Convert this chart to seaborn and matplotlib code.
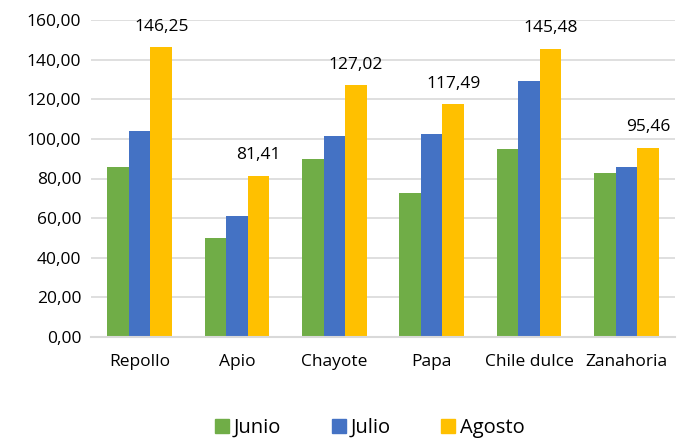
import matplotlib
matplotlib.use('Agg')
import matplotlib.pyplot as plt
import seaborn as sns
import pandas as pd
from matplotlib.patches import Patch

productos = ['Repollo', 'Apio', 'Chayote', 'Papa', 'Chile dulce', 'Zanahoria']
junio = [85.8, 49.8, 89.8, 72.8, 94.9, 82.7]
julio = [104.0, 61.0, 101.6, 102.5, 129.3, 85.6]
agosto = [146.25, 81.41, 127.02, 117.49, 145.48, 95.46]
meses = ['Junio', 'Julio', 'Agosto']
colores = ['#70AD47', '#4472C4', '#FFC000']

df = pd.DataFrame({'producto': productos * 3,
                   'mes': [m for m in meses for _ in productos],
                   'valor': junio + julio + agosto})

sns.set_style('white')
plt.rcParams['font.family'] = ['Open Sans', 'DejaVu Sans']
plt.rcParams['text.color'] = 'black'

fig = plt.figure(figsize=(6.81, 4.38), dpi=100)
ax = fig.add_axes([91 / 681, 1 - 337 / 438, 584 / 681, 317 / 438])

sns.barplot(data=df, x='producto', y='valor', hue='mes', palette=colores,
            width=0.667, linewidth=0, saturation=1, legend=False, ax=ax)

ax.set_ylim(0, 160)
ax.set_xlim(-0.5, len(productos) - 0.5)
ax.set_yticks(range(0, 161, 20))
ax.set_yticklabels([f'{v:.2f}'.replace('.', ',') for v in range(0, 161, 20)])
ax.yaxis.grid(True, color='#D9D9D9', linewidth=1.2)
ax.set_axisbelow(True)
ax.set_xlabel('')
ax.set_ylabel('')
ax.tick_params(axis='both', length=0, labelsize=12.5, colors='black')
ax.tick_params(axis='x', pad=12)
ax.tick_params(axis='y', pad=7)
for s in ['top', 'right', 'left']:
    ax.spines[s].set_visible(False)
ax.spines['bottom'].set_color('#D9D9D9')
ax.spines['bottom'].set_linewidth(1.5)

# etiquetas solo en agosto
ago = ax.containers[2]
for bar, v in zip(ago, agosto):
    ax.annotate(f'{v:.2f}'.replace('.', ','),
                (bar.get_x() + bar.get_width() / 2, bar.get_height()),
                xytext=(0, 9), textcoords='offset points',
                ha='center', va='bottom', fontsize=12.5, color='black')

handles = [Patch(color=c, label=m) for c, m in zip(colores, meses)]
fig.legend(handles=handles, loc='center', bbox_to_anchor=(370 / 681, 1 - 428 / 438),
           ncol=3, frameon=False, fontsize=14.5, handlelength=0.7, handleheight=0.7,
           handletextpad=0.25, columnspacing=2.5)

fig.savefig('out.png', dpi=100)
